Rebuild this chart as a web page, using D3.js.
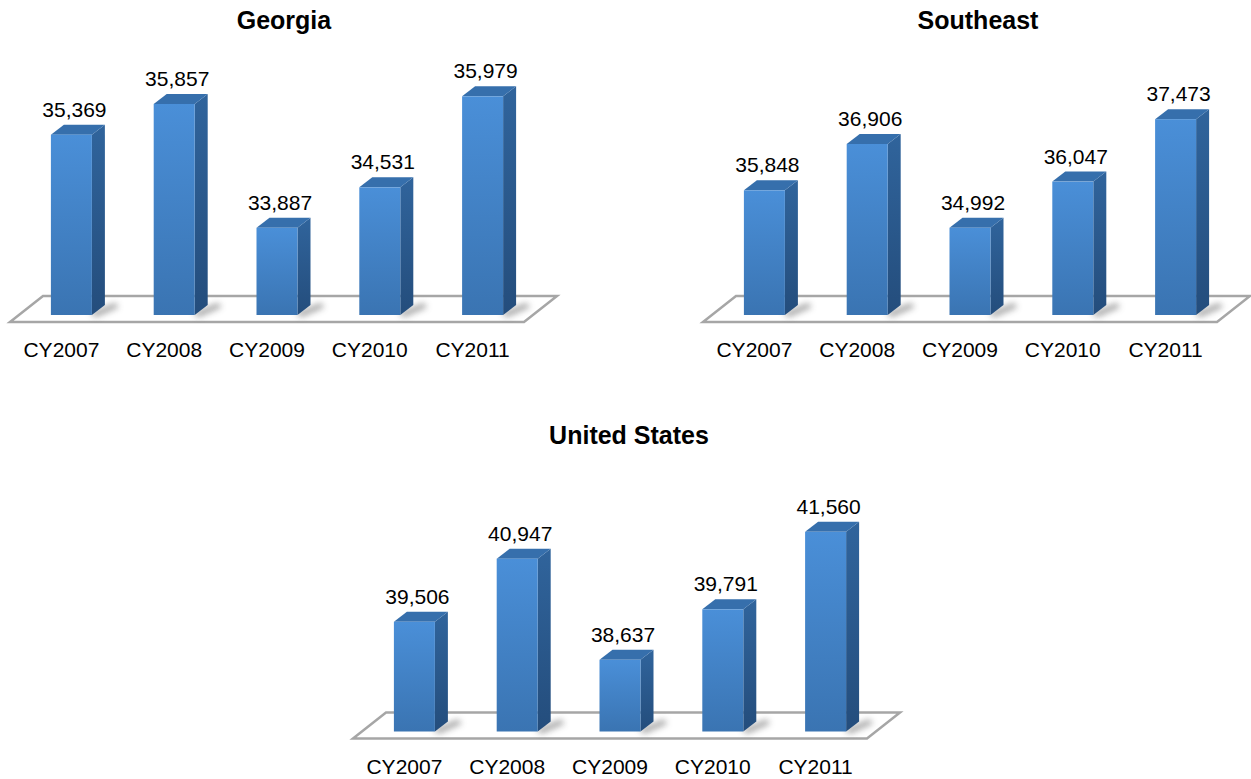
<!DOCTYPE html>
<html>
<head>
<meta charset="utf-8">
<script src="https://cdn.jsdelivr.net/npm/d3@7"></script>
<style>
  body { margin: 0; background: #fff; }
  svg text { font-family: "Liberation Sans", Arial, sans-serif; fill: #000; }
</style>
</head>
<body>
<svg id="chart" width="1251" height="779"></svg>
<script>
var categories = ["CY2007", "CY2008", "CY2009", "CY2010", "CY2011"];
var georgiaValues = [35369, 35857, 33887, 34531, 35979];
var southeastValues = [35848, 36906, 34992, 36047, 37473];
var usValues = [39506, 40947, 38637, 39791, 41560];
var panelTitles = ["Georgia", "Southeast", "United States"];
var axisMins = [32500, 33000, 37000];
var axisMaxs = [36000, 37500, 41500];

// layout of each small chart (floor front-left corner, plot height)
var panels = [
  { values: georgiaValues, x0: 10, floorY: 322, plotH: 220, titleX: 284, titleY: 29 },
  { values: southeastValues, x0: 703, floorY: 322, plotH: 197, titleX: 978, titleY: 29 },
  { values: usValues, x0: 353, floorY: 738.5, plotH: 197, titleX: 629, titleY: 444 }
];

var floorW = 514, floorDx = 33, floorDy = -26;
var barW = 41, depthDx = 13, depthDy = -10;
var frontDx = 10, frontDy = -7;

var svg = d3.select("#chart");
var defs = svg.append("defs");

var frontGrad = defs.append("linearGradient")
  .attr("id", "frontGrad").attr("x1", 0).attr("y1", 0).attr("x2", 0).attr("y2", 1);
frontGrad.append("stop").attr("offset", "0%").attr("stop-color", "#4a8fd8");
frontGrad.append("stop").attr("offset", "100%").attr("stop-color", "#3a74b2");

var sideGrad = defs.append("linearGradient")
  .attr("id", "sideGrad").attr("x1", 0).attr("y1", 0).attr("x2", 0).attr("y2", 1);
sideGrad.append("stop").attr("offset", "0%").attr("stop-color", "#30649c");
sideGrad.append("stop").attr("offset", "100%").attr("stop-color", "#244d7c");

defs.append("filter").attr("id", "blur")
  .attr("x", "-50%").attr("y", "-50%").attr("width", "200%").attr("height", "200%")
  .append("feGaussianBlur").attr("stdDeviation", 3);

var fmt = d3.format(",");

panels.forEach(function(p, i) {
  var g = svg.append("g");

  var x = d3.scaleBand()
    .domain(categories)
    .range([p.x0, p.x0 + floorW]);
  var baseY = p.floorY + frontDy;
  var y = d3.scaleLinear()
    .domain([axisMins[i], axisMaxs[i]])
    .range([baseY, baseY - p.plotH]);

  // floor
  var fy = p.floorY;
  g.append("path")
    .attr("d", "M" + p.x0 + "," + fy +
      "L" + (p.x0 + floorW) + "," + fy +
      "L" + (p.x0 + floorW + floorDx) + "," + (fy + floorDy) +
      "L" + (p.x0 + floorDx) + "," + (fy + floorDy) + "Z")
    .attr("fill", "#fff")
    .attr("stroke", "#a6a6a6")
    .attr("stroke-width", 2.5)
    .attr("stroke-linejoin", "miter");

  var bars = g.selectAll("g.bar")
    .data(p.values)
    .enter().append("g")
      .attr("class", "bar");

  function bx(d, j) { return x(categories[j]) + (x.bandwidth() - barW) / 2 + frontDx; }

  // shadow on the floor
  bars.append("path")
    .attr("d", function(d, j) {
      var l = bx(d, j) + barW - 2, b = baseY;
      return "M" + l + "," + (b - 2) + "L" + (l + depthDx + 12) + "," + (b - 2 + depthDy) +
        "L" + (l + depthDx + 16) + "," + (b + 2 + depthDy) + "L" + (l + 6) + "," + (b + 2) + "Z";
    })
    .attr("fill", "#555")
    .attr("opacity", 0.55)
    .attr("filter", "url(#blur)");

  bars.append("path")
    .attr("d", function(d, j) {
      var l = bx(d, j) + barW, t = y(d);
      return "M" + l + "," + t + "L" + (l + depthDx) + "," + (t + depthDy) +
        "L" + (l + depthDx) + "," + (baseY + depthDy) + "L" + l + "," + baseY + "Z";
    })
    .attr("fill", "url(#sideGrad)");

  bars.append("path")
    .attr("d", function(d, j) {
      var l = bx(d, j), t = y(d);
      return "M" + l + "," + t + "L" + (l + depthDx) + "," + (t + depthDy) +
        "L" + (l + barW + depthDx) + "," + (t + depthDy) + "L" + (l + barW) + "," + t + "Z";
    })
    .attr("fill", "#366fac");

  bars.append("rect")
    .attr("x", function(d, j) { return bx(d, j); })
    .attr("y", function(d) { return y(d); })
    .attr("width", barW)
    .attr("height", function(d) { return baseY - y(d); })
    .attr("fill", "url(#frontGrad)");

  bars.append("text")
    .attr("x", function(d, j) { return bx(d, j) + barW / 2 + 3; })
    .attr("y", function(d) { return y(d) + depthDy - 8; })
    .attr("text-anchor", "middle")
    .attr("font-size", 21)
    .text(function(d) { return fmt(d); });

  g.selectAll("text.cat")
    .data(categories)
    .enter().append("text")
      .attr("class", "cat")
      .attr("x", function(c) { return x(c) + x.bandwidth() / 2; })
      .attr("y", fy + 35)
      .attr("text-anchor", "middle")
      .attr("font-size", 21)
      .text(function(c) { return c; });

  g.append("text")
    .attr("x", p.titleX)
    .attr("y", p.titleY)
    .attr("text-anchor", "middle")
    .attr("font-size", 25)
    .attr("font-weight", "bold")
    .text(panelTitles[i]);
});
</script>
</body>
</html>
